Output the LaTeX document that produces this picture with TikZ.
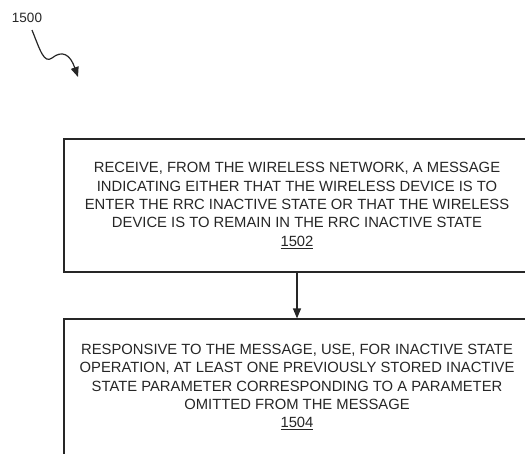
\documentclass[tikz,border=0pt]{standalone}
\usepackage{fontspec}
\setmainfont{Liberation Sans}
\usetikzlibrary{arrows.meta}
\begin{document}
\begin{tikzpicture}[x=1pt,y=1pt,
  stepbox/.style={draw=black!85,line width=1.2pt,rectangle,minimum width=466pt,
    align=center,font=\fontsize{14.8}{18.3}\selectfont,text=black!85,inner sep=0pt},
  conn/.style={draw=black!85,line width=1.2pt,-{Triangle[length=10pt,width=8pt]}}]
\clip (0,0) rectangle (525,-453);
\node[font=\fontsize{13.5}{14}\selectfont,text=black!85] (lbl) at (27,-18) {1500};
\coordinate (s0) at (32,-30);
\coordinate (s1) at (78,-77);
\draw[conn] (s0) .. controls (40,-50) and (44,-64) .. (52,-58)
  .. controls (62,-50) and (70,-54) .. (s1);
\node[stepbox,minimum height=133pt] (b1) at (297,-205.5) {RECEIVE, FROM THE WIRELESS NETWORK, A MESSAGE\\INDICATING EITHER THAT THE WIRELESS DEVICE IS TO\\ENTER THE RRC INACTIVE STATE OR THAT THE WIRELESS\\DEVICE IS TO REMAIN IN THE RRC INACTIVE STATE\\\underline{1502}};
\node[stepbox,minimum height=136pt] (b2) at (297,-387) {RESPONSIVE TO THE MESSAGE, USE, FOR INACTIVE STATE\\OPERATION, AT LEAST ONE PREVIOUSLY STORED INACTIVE\\STATE PARAMETER CORRESPONDING TO A PARAMETER\\OMITTED FROM THE MESSAGE\\\underline{1504}};
\draw[conn] (b1.south) -- (b2.north);
\end{tikzpicture}
\end{document}
